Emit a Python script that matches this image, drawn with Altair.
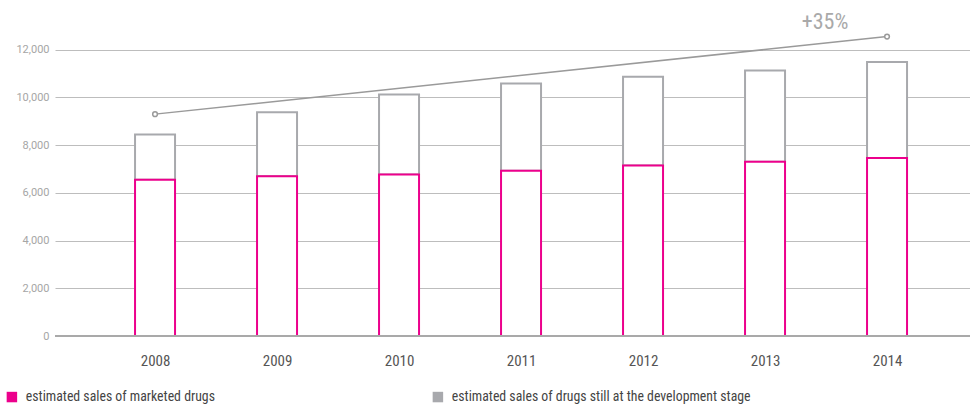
import altair as alt
import pandas as pd

years = [2008, 2009, 2010, 2011, 2012, 2013, 2014]
marketed = [6550, 6700, 6770, 6930, 7150, 7300, 7460]
total = [8450, 9380, 10120, 10580, 10870, 11130, 11490]
series_names = ["estimated sales of marketed drugs",
                "estimated sales of drugs still at the development stage"]
series_colors = ["#EC008C", "#A8A9AD"]
trend_years = [2008, 2014]
trend_values = [9300, 12550]
trend_label = "+35%"
y_ticks = [0, 2000, 4000, 6000, 8000, 10000, 12000]

dev_df = pd.DataFrame({"year": years, "lo": marketed, "hi": total,
                       "series": [series_names[1]] * len(years)})
mkt_df = pd.DataFrame({"year": years, "lo": [0] * len(years), "hi": marketed,
                       "series": [series_names[0]] * len(years)})
legend_df = pd.DataFrame({"series": series_names, "year": [years[0]] * 2, "value": [0, 0]})
trend_df = pd.DataFrame({"year": trend_years, "value": trend_values})
label_df = pd.DataFrame({"year": [trend_years[-1]], "value": [13180], "text": [trend_label]})

FONT = "Liberation Sans Narrow, Roboto Condensed, Roboto"
FONT_Y = "Roboto"

x_scale = alt.Scale(domain=[2007.18, 2014.68], nice=False, zero=False, padding=0)
y_scale = alt.Scale(domain=[0, 14000], nice=False, padding=0)

x_axis = alt.Axis(values=years, format="d", title=None, grid=False, ticks=False,
                  domain=False, labelPadding=17, labelFontSize=15,
                  labelColor="#555555", labelFont=FONT)
y_axis = alt.Axis(values=y_ticks, format=",d", title=None, ticks=False, domain=False,
                  labelPadding=6, labelFontSize=11, labelColor="#A6A6A6",
                  labelFont=FONT_Y, gridColor="#BDBDBD", gridWidth=1)

dev = alt.Chart(dev_df).mark_bar(size=40, fill="white", stroke=series_colors[1],
                                 strokeWidth=2).encode(
    x=alt.X("year:Q", scale=x_scale, axis=x_axis),
    y=alt.Y("lo:Q", scale=y_scale, axis=y_axis),
    y2="hi:Q",
)
mkt = alt.Chart(mkt_df).mark_bar(size=40, fill="white", stroke=series_colors[0],
                                 strokeWidth=2).encode(
    x=alt.X("year:Q", scale=x_scale),
    y=alt.Y("lo:Q", scale=y_scale),
    y2="hi:Q",
)

legend_layer = alt.Chart(legend_df).mark_square(opacity=0, size=1).encode(
    x=alt.X("year:Q", scale=x_scale),
    y=alt.Y("value:Q", scale=y_scale),
    color=alt.Color("series:N",
                    scale=alt.Scale(domain=series_names, range=series_colors),
                    sort=series_names,
                    legend=alt.Legend(title=None, orient="none", legendX=-50, legendY=388,
                                      direction="horizontal", columns=2,
                                      symbolType="square", symbolSize=110,
                                      symbolOpacity=1, symbolStrokeWidth=0,
                                      labelFontSize=13.8, labelColor="#444444",
                                      labelFont=FONT, labelOffset=7,
                                      columnPadding=216, labelLimit=0)),
)

zero = alt.Chart(pd.DataFrame({"v": [0]})).mark_rule(color="#A9A9A9", strokeWidth=2).encode(
    y=alt.Y("v:Q", scale=y_scale)
)

line = alt.Chart(trend_df).mark_line(color="#9A9A9A", strokeWidth=1.5).encode(
    x=alt.X("year:Q", scale=x_scale), y=alt.Y("value:Q", scale=y_scale)
)
pts = alt.Chart(trend_df).mark_point(shape="circle", size=22, fill="white", filled=True,
                                     stroke="#9A9A9A", strokeWidth=1.5, opacity=1).encode(
    x=alt.X("year:Q", scale=x_scale), y=alt.Y("value:Q", scale=y_scale)
)
txt = alt.Chart(label_df).mark_text(font=FONT, fontSize=22, color="#A9A9A9", dx=-62,
                                    baseline="middle").encode(
    x=alt.X("year:Q", scale=x_scale), y=alt.Y("value:Q", scale=y_scale), text="text:N"
)

chart = alt.layer(dev, mkt, zero, line, pts, txt, legend_layer).properties(
    width=915, height=334,
    autosize=alt.AutoSizeParams(type="none"),
    padding={"left": 55, "top": 2, "right": 0, "bottom": 73},
).configure(background="white").configure_view(stroke=None)

chart.save("out.html", embed_options={"renderer": "svg", "actions": False})
